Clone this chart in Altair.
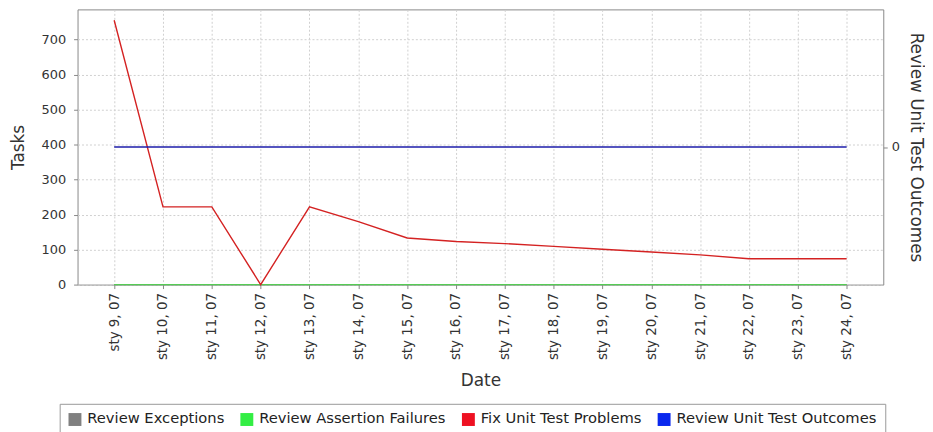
import altair as alt
import pandas as pd

# ---- data ----
dates = ["sty 9, 07", "sty 10, 07", "sty 11, 07", "sty 12, 07", "sty 13, 07",
         "sty 14, 07", "sty 15, 07", "sty 16, 07", "sty 17, 07", "sty 18, 07",
         "sty 19, 07", "sty 20, 07", "sty 21, 07", "sty 22, 07", "sty 23, 07",
         "sty 24, 07"]
review_exceptions = [0, 0, 0, 0, 0, 0, 0, 0, 0, 0, 0, 0, 0, 0, 0, 0]
review_assertion_failures = [0, 0, 0, 0, 0, 0, 0, 0, 0, 0, 0, 0, 0, 0, 0, 0]
fix_unit_test_problems = [755, 222, 222, 0, 222, 180, 133, 123, 117, 109, 101, 93, 85, 74, 74, 74]
review_unit_test_outcomes = [0, 0, 0, 0, 0, 0, 0, 0, 0, 0, 0, 0, 0, 0, 0, 0]

series_names = ["Review Exceptions", "Review Assertion Failures",
                "Fix Unit Test Problems", "Review Unit Test Outcomes"]
legend_colors = ["#808080", "#33ee44", "#ee1122", "#0a28ee"]
line_colors = ["#808080", "#55cc55", "#d42222", "#1c1caa"]
left_ticks = [0, 100, 200, 300, 400, 500, 600, 700]
left_domain = [0, 786]
right_ticks = [0]
right_domain = [-1, 1]

FONT = "DejaVu Sans"
TXT = "#333333"


def frame(values):
    return pd.DataFrame({"date": dates, "value": values})


x_enc = alt.X(
    "date:N", sort=dates,
    scale=alt.Scale(type="point", padding=0.75),
    axis=alt.Axis(title="Date", labelAngle=270, grid=True, gridDash=[2, 2],
                  gridColor="#d0d0d0", tickColor="#888888", tickSize=4,
                  labelPadding=4, domain=False, labelFont=FONT, labelFontSize=13.5,
                  labelColor=TXT, titleFont=FONT, titleFontSize=17,
                  titleFontWeight="normal", titleColor=TXT, titlePadding=13),
)

y_left = alt.Y(
    "value:Q",
    scale=alt.Scale(domain=left_domain, nice=False, zero=False),
    axis=alt.Axis(title="Tasks", values=left_ticks, grid=True, gridDash=[2, 2],
                  gridColor="#d0d0d0", tickColor="#888888", tickSize=4,
                  labelPadding=8, domain=False, labelFont=FONT, labelFontSize=13,
                  labelColor=TXT, titleFont=FONT, titleFontSize=17,
                  titleFontWeight="normal", titleColor=TXT, titlePadding=14),
)

y_right = alt.Y(
    "value:Q",
    scale=alt.Scale(domain=right_domain, nice=False, zero=False),
    axis=alt.Axis(title="Review Unit Test Outcomes", orient="right", values=right_ticks,
                  grid=False, tickColor="#888888", tickSize=4, labelPadding=4,
                  domain=False, labelFont=FONT, labelFontSize=13, labelColor=TXT,
                  titleFont=FONT, titleFontSize=17, titleFontWeight="normal",
                  titleColor=TXT, titlePadding=7),
)


def left_line(values, color):
    return alt.Chart(frame(values)).mark_line(stroke=color, strokeWidth=1.4).encode(
        x=x_enc, y=y_left)


legend_layer = alt.Chart(pd.DataFrame({"series": series_names})).mark_square(
    opacity=0, size=169, filled=True
).encode(
    color=alt.Color(
        "series:N",
        scale=alt.Scale(domain=series_names, range=legend_colors),
        legend=alt.Legend(title=None, orient="none", legendX=-18, legendY=397,
                          direction="horizontal", columns=4, symbolType="square",
                          symbolSize=169, symbolOpacity=1, symbolStrokeWidth=0,
                          labelFont=FONT, labelFontSize=14.8, labelColor="#222222",
                          labelLimit=400,
                          strokeColor="#999999", fillColor="#ffffff", padding=8,
                          columnPadding=15, labelOffset=5),
    )
)

left_group = alt.layer(
    left_line(review_exceptions, line_colors[0]),
    left_line(review_assertion_failures, line_colors[1]),
    left_line(fix_unit_test_problems, line_colors[2]),
    legend_layer,
)

right_line = alt.Chart(frame(review_unit_test_outcomes)).mark_line(
    stroke=line_colors[3], strokeWidth=1.4
).encode(x=x_enc, y=y_right)

chart = alt.layer(left_group, right_line).resolve_scale(y="independent").properties(
    width=811, height=277,
    padding={"left": 1, "top": 0, "right": 0, "bottom": 0},
).configure_view(stroke="#888888", strokeWidth=1)

chart.save("out.html", embed_options={"renderer": "svg", "actions": False})
